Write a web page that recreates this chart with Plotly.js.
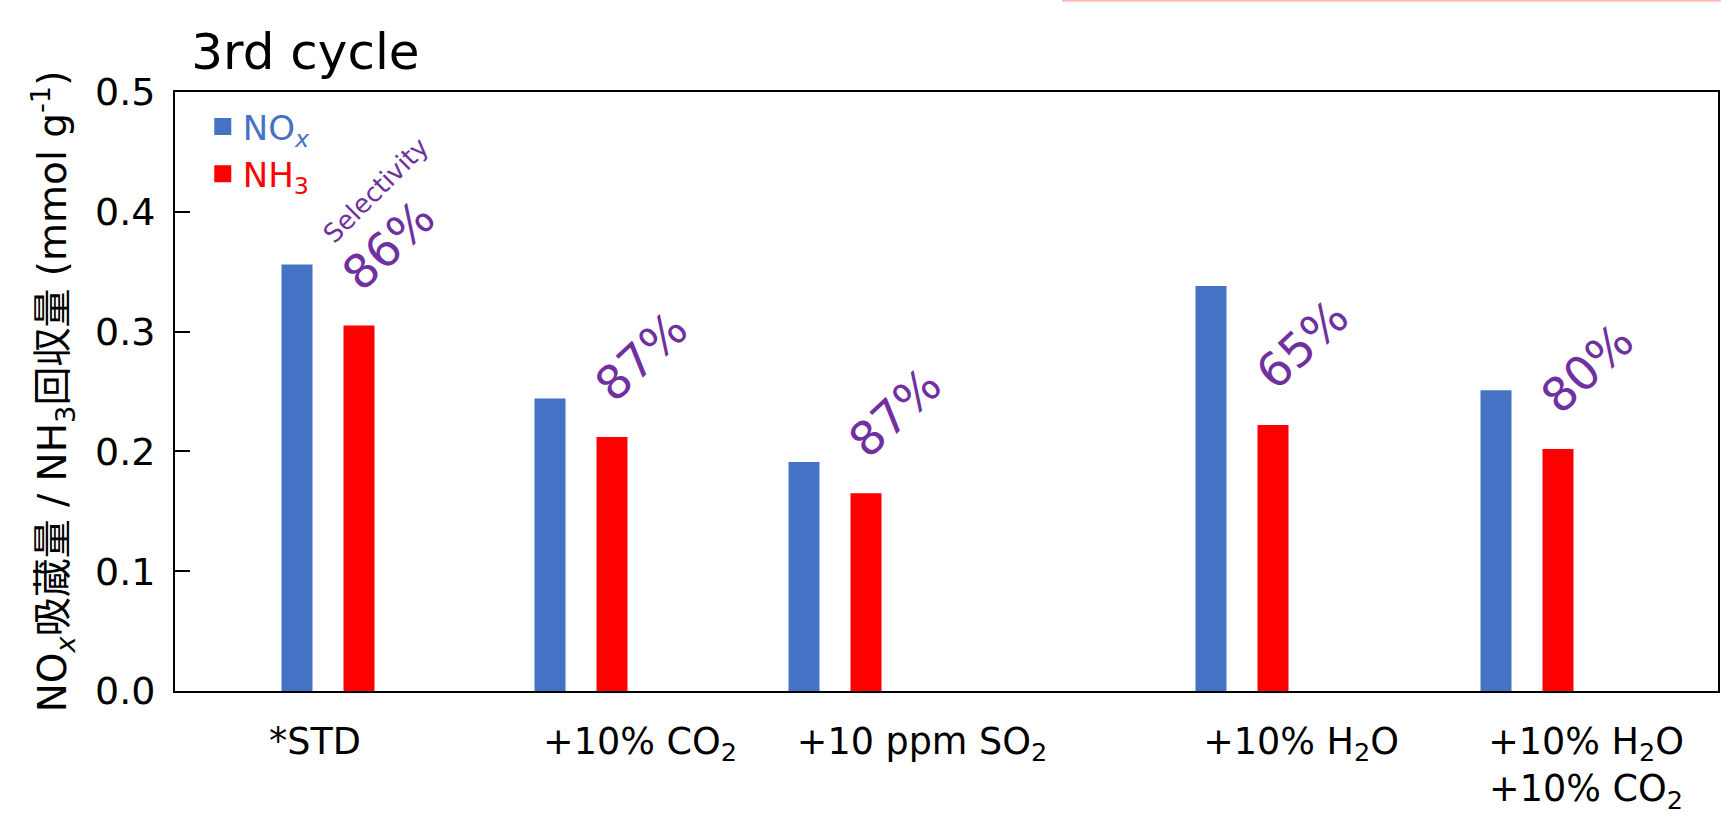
<!DOCTYPE html>
<html>
<head>
<meta charset="utf-8">
<script src="https://cdn.plot.ly/plotly-3.0.1.min.js"></script>
<style>html,body{margin:0;padding:0;background:#fff;}#chart{width:1721px;height:815px;}</style>
</head>
<body>
<div id="chart"></div>
<script>
// ---- data ----
const conditions = ['*STD', '+10% CO<sub>2</sub>', '+10 ppm SO<sub>2</sub>', '+10% H<sub>2</sub>O', '+10% H<sub>2</sub>O<br>+10% CO<sub>2</sub>'];
const noxStorage = [0.354, 0.242, 0.189, 0.336, 0.249];   // mmol g-1
const nh3Recovery = [0.303, 0.210, 0.163, 0.220, 0.200]; // mmol g-1
const selectivity = [86, 87, 87, 65, 80];                 // %
const yTicks = [0.0, 0.1, 0.2, 0.3, 0.4, 0.5];

// ---- layout positions (not data) ----
const groupPos = [1.53, 4.06, 6.60, 10.67, 13.52];
const labelPos = [1.40, 4.65, 7.47, 11.26, 14.11];
const barW = 0.31;      // visible bar width incl. outline
const outline = 5;      // px outline (same colour) -> bigger legend squares
const fillW = barW - outline / 100;

const FONT = '"DejaVu Sans", "Noto Sans CJK JP", sans-serif';
const BLUE = '#4472C4', RED = '#FF0000', PURPLE = '#7030A0';

const traces = [
  {
    type: 'bar', x: groupPos, y: noxStorage,
    name: '<span style="color:' + BLUE + '">NO<sub><i>x</i></sub></span>',
    marker: {color: BLUE, line: {color: BLUE, width: outline}},
    width: fillW, offset: -1.5 * barW + outline / 200,
    hoverinfo: 'y'
  },
  {
    type: 'bar', x: groupPos, y: nh3Recovery,
    name: '<span style="color:' + RED + '">NH<sub>3</sub></span>',
    marker: {color: RED, line: {color: RED, width: outline}},
    width: fillW, offset: 0.5 * barW + outline / 200,
    hoverinfo: 'y'
  }
];

const annotations = selectivity.map((s, i) => ({
  xref: 'x', yref: 'y',
  x: groupPos[i] + barW, y: nh3Recovery[i],
  xshift: 29, yshift: 83,
  text: s + '%', showarrow: false, textangle: -43,
  xanchor: 'center', yanchor: 'middle',
  font: {family: FONT, size: 47, color: PURPLE}
}));
annotations.push({
  xref: 'x', yref: 'y',
  x: groupPos[0] + barW, y: nh3Recovery[0],
  xshift: 17, yshift: 138,
  text: 'Selectivity', showarrow: false, textangle: -45,
  xanchor: 'center', yanchor: 'middle',
  font: {family: FONT, size: 26, color: PURPLE}
});

const layout = {
  width: 1721, height: 815,
  paper_bgcolor: '#fff', plot_bgcolor: '#fff',
  margin: {l: 175, r: 3, t: 92, b: 124},
  font: {family: FONT, color: '#000'},
  title: {
    text: '3rd cycle', xref: 'paper', x: 0.0105, xanchor: 'left',
    yref: 'container', y: 0.937, yanchor: 'middle',
    font: {family: FONT, size: 50, color: '#000'}
  },
  barmode: 'overlay',
  showlegend: true,
  legend: {
    x: 0.018, y: 0.99, xanchor: 'left', yanchor: 'top',
    bgcolor: 'rgba(0,0,0,0)', borderwidth: 0,
    font: {family: FONT, size: 34},
    tracegroupgap: 0, itemclick: false, itemdoubleclick: false
  },
  xaxis: {
    type: 'linear', range: [0, 15.43],
    showgrid: false, zeroline: false,
    showline: true, linecolor: '#000', linewidth: 2, mirror: true,
    ticks: '', tickmode: 'array', tickvals: labelPos, ticktext: conditions,
    tickfont: {family: FONT, size: 36.5, color: '#000'},
    ticklabelstandoff: 17, fixedrange: true
  },
  yaxis: {
    range: [0, 0.5], tickmode: 'array', tickvals: yTicks,
    ticktext: yTicks.map(v => v.toFixed(1)),
    showgrid: false, zeroline: false,
    showline: true, linecolor: '#000', linewidth: 2, mirror: true,
    ticks: 'inside', ticklen: 15, tickwidth: 2, tickcolor: '#000',
    tickfont: {family: FONT, size: 38, color: '#000'},
    ticklabelstandoff: 10,
    title: {
      text: 'NO<sub><i>x</i></sub>吸蔵量 / NH<sub>3</sub>回収量 (mmol g<sup>-1</sup>)',
      font: {family: FONT, size: 39, color: '#000'}, standoff: 16
    },
    fixedrange: true
  },
  shapes: [{
    type: 'line', xref: 'paper', yref: 'paper',
    x0: (1062 - 175) / 1543, x1: 1.01, y0: (691 - 0.5) / 599, y1: (691 - 0.5) / 599,
    line: {color: '#FFB4B4', width: 2}
  }],
  annotations: annotations
};

Plotly.newPlot('chart', traces, layout, {displayModeBar: false, staticPlot: true});
</script>
</body>
</html>
